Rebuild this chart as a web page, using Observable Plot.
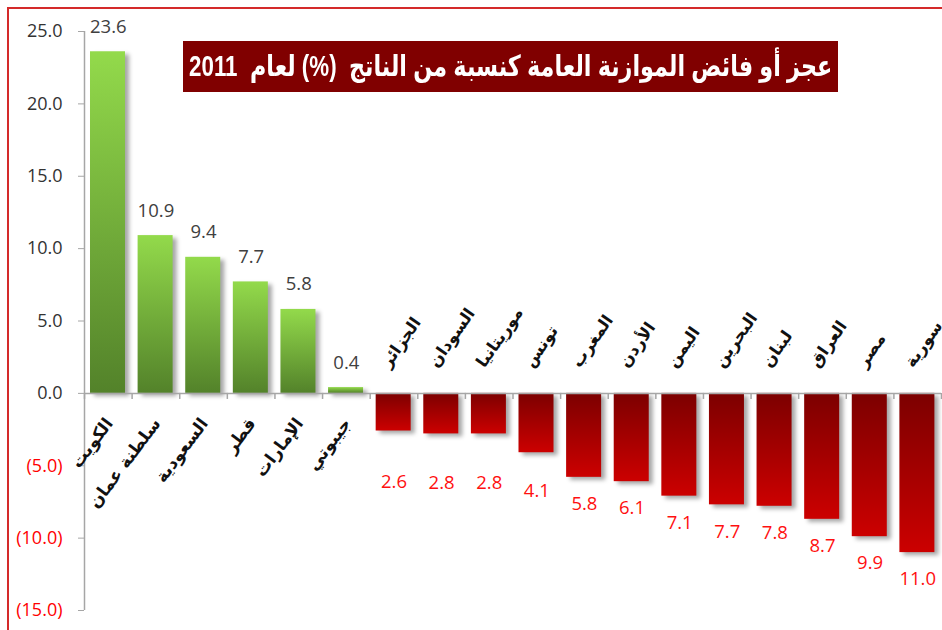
<!DOCTYPE html>
<html><head><meta charset="utf-8">
<script src="https://cdn.jsdelivr.net/npm/d3@7"></script>
<script src="https://cdn.jsdelivr.net/npm/@observablehq/plot@0.6"></script>
<style>
body{margin:0;background:#fff;}
#wrap{position:relative;width:942px;height:630px;overflow:hidden;background:#fff;}
#chart{position:absolute;left:0;top:0;}
#border{position:absolute;left:7px;top:7px;width:960px;height:660px;border-left:2px solid #d42a2a;border-top:2px solid #d42a2a;}
#title{position:absolute;left:183px;top:41px;width:655px;height:51px;background:#800000;color:#fff;
 font-family:"Liberation Sans","DejaVu Sans",sans-serif;font-weight:bold;font-size:29px;line-height:51px;
 display:flex;justify-content:center;align-items:center;white-space:nowrap;overflow:hidden;}
#title span{flex:none;display:block;direction:rtl;transform:scaleX(0.77);transform-origin:center;}
</style></head><body>
<div id="wrap"><div id="border"></div><div id="chart"></div>
<div id="title"><span>عجز أو فائض الموازنة العامة كنسبة من الناتج&nbsp; (%) لعام&nbsp; 2011</span></div></div>
<script>
const countries = ["الكويت","سلطنة عمان","السعودية","قطر","الإمارات","جيبوتي","الجزائر","السودان","موريتانيا","تونس","المغرب","الأردن","اليمن","البحرين","لبنان","العراق","مصر","سورية"];
const values = [23.6,10.9,9.4,7.7,5.8,0.4,-2.6,-2.8,-2.8,-4.1,-5.8,-6.1,-7.1,-7.7,-7.8,-8.7,-9.9,-11.0];
const yTicks = [-15,-10,-5,0,5,10,15,20,25];

const data = countries.map((c,i)=>({i, country:c, value:values[i]}));
const pos = data.filter(d=>d.value>=0);
const neg = data.filter(d=>d.value<0);
// layout rule for negative value labels (small bars' labels pushed lower)
const negLabelY = d => Math.min(d.value - 1.85, -6.15 - 0.4*(Math.abs(d.value)-2.6));
const fmtY = d => d<0 ? `(${(-d).toFixed(1)})` : d.toFixed(1);
const axisGray = "#a6a6a6";
const arabicFont = "'DejaVu Sans', sans-serif";

const svg = Plot.plot({
  width: 942, height: 630,
  marginLeft: 84, marginRight: 1, marginTop: 31, marginBottom: 20,
  style: {fontFamily: "'Open Sans', sans-serif", fontSize: "18px", background: "transparent"},
  x: {type: "linear", domain: [0, countries.length], axis: null},
  y: {domain: [-15, 25]},
  marks: [
    Plot.rectY(pos, {x1: d=>d.i, x2: d=>d.i+1, y1: 0, y2: "value", fill: "url(#gradGreen)", insetLeft: 6, insetRight: 6.6}),
    Plot.rectY(neg, {x1: d=>d.i, x2: d=>d.i+1, y1: 0, y2: "value", fill: "url(#gradRed)", insetLeft: 6, insetRight: 6.6}),
    Plot.ruleY([0], {stroke: axisGray, strokeWidth: 1.5}),
    Plot.ruleX(d3.range(countries.length+1), {x: d=>d, y1: 0, y2: -0.42, stroke: axisGray, strokeWidth: 1.5}),
    Plot.ruleX([0], {y1: -15, y2: 25, stroke: axisGray, strokeWidth: 1.5}),
    Plot.axisY(yTicks.filter(t=>t>=0), {tickFormat: fmtY, tickSize: 6, tickPadding: 16, fill: "#333", stroke: axisGray, label: null, fontSize: 18}),
    Plot.axisY(yTicks.filter(t=>t<0), {tickFormat: fmtY, tickSize: 6, tickPadding: 16, fill: "#ff0000", stroke: axisGray, label: null, fontSize: 18}),
    Plot.text(pos, {x: d=>d.i+0.5, y: "value", text: d=>d.value.toFixed(1), dy: -25, fill: "#404040", fontSize: 18.5}),
    Plot.text(neg, {x: d=>d.i+0.5, y: negLabelY, text: d=>Math.abs(d.value).toFixed(1), fill: "#ff1010", fontSize: 18.5}),
    Plot.text(pos, {x: d=>d.i+0.5, y: 0, text: "country", dx: 1, dy: 27, rotate: -53, textAnchor: "end", fontFamily: arabicFont, fontWeight: "bold", fontSize: 17, fill: "#111"}),
    Plot.text(neg, {x: d=>d.i+0.5, y: 0, text: "country", dx: -9, dy: -28, rotate: -55, textAnchor: "start", fontFamily: arabicFont, fontWeight: "bold", fontSize: 16.5, fill: "#111"})
  ]
});

const s = d3.select(svg);
const defs = s.insert("defs", ":first-child");
const g1 = defs.append("linearGradient").attr("id","gradGreen").attr("x1",0).attr("y1",0).attr("x2",0).attr("y2",1);
g1.append("stop").attr("offset","0%").attr("stop-color","#93da4b");
g1.append("stop").attr("offset","100%").attr("stop-color","#53822a");
const g2 = defs.append("linearGradient").attr("id","gradRed").attr("x1",0).attr("y1",0).attr("x2",0).attr("y2",1);
g2.append("stop").attr("offset","0%").attr("stop-color","#7c0000");
g2.append("stop").attr("offset","100%").attr("stop-color","#cc0000");
s.selectAll("g[aria-label='rect']").style("filter","drop-shadow(4px 3px 2px rgba(0,0,0,0.35))");
document.getElementById("chart").appendChild(svg);
</script>
</body></html>
